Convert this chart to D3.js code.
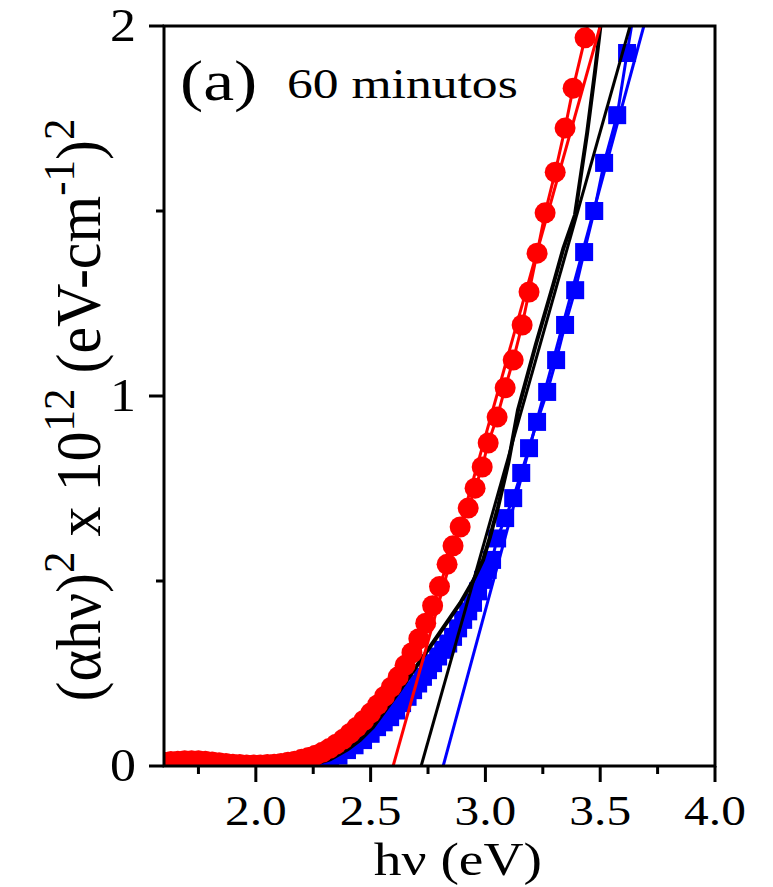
<!DOCTYPE html>
<html>
<head>
<meta charset="utf-8">
<script src="https://cdn.jsdelivr.net/npm/d3@7"></script>
<style>
  body { margin: 0; background: #fff; }
  svg text { font-family: "Liberation Serif", Tinos, "Times New Roman", Times, serif; fill: #000; }
</style>
</head>
<body>
<svg id="chart" width="773" height="887"></svg>
<script>
// data: [hv (eV), (ahv)^2 x 10^12]
const redData = [
  [1.60, 0.010], [1.63, 0.012], [1.66, 0.013], [1.69, 0.014], [1.72, 0.014], [1.75, 0.014],
  [1.78, 0.013], [1.81, 0.011], [1.84, 0.009], [1.87, 0.007], [1.90, 0.005], [1.93, 0.004],
  [1.96, 0.003], [1.99, 0.003], [2.02, 0.003], [2.05, 0.004], [2.08, 0.005], [2.11, 0.007],
  [2.14, 0.010], [2.17, 0.013], [2.20, 0.018], [2.23, 0.023], [2.26, 0.029], [2.29, 0.037],
  [2.32, 0.047], [2.35, 0.059], [2.38, 0.072], [2.41, 0.088], [2.44, 0.105], [2.47, 0.123],
  [2.50, 0.143], [2.53, 0.165], [2.56, 0.188], [2.59, 0.213], [2.62, 0.241], [2.65, 0.272],
  [2.68, 0.306], [2.71, 0.344], [2.74, 0.386], [2.77, 0.433], [2.80, 0.485], [2.833, 0.545],
  [2.859, 0.595], [2.89, 0.646], [2.925, 0.697], [2.955, 0.751], [2.986, 0.808], [3.012, 0.873],
  [3.051, 0.943], [3.086, 1.022], [3.121, 1.097], [3.16, 1.192], [3.19, 1.281], [3.225, 1.386],
  [3.26, 1.495], [3.304, 1.605], [3.347, 1.724], [3.382, 1.832], [3.434, 1.968], [3.47, 2.08]
];

const blueData = [
  [1.60, 0.003], [1.70, 0.004], [1.80, 0.003], [1.90, 0.001], [2.00, 0.000], [2.10, 0.000],
  [2.20, 0.000], [2.249, 0.002], [2.29, 0.008], [2.323, 0.016], [2.36, 0.028], [2.397, 0.043],
  [2.43, 0.056], [2.467, 0.070], [2.50, 0.087], [2.528, 0.105], [2.557, 0.118], [2.585, 0.132],
  [2.611, 0.150], [2.637, 0.170], [2.661, 0.187], [2.685, 0.205], [2.707, 0.223], [2.728, 0.241],
  [2.750, 0.259], [2.772, 0.278], [2.794, 0.296], [2.816, 0.314], [2.838, 0.331], [2.859, 0.349],
  [2.881, 0.372], [2.903, 0.395], [2.925, 0.418], [2.946, 0.441], [2.968, 0.472], [2.99, 0.503],
  [3.01, 0.530], [3.029, 0.557], [3.051, 0.615], [3.086, 0.670], [3.121, 0.724], [3.156, 0.792],
  [3.19, 0.859], [3.225, 0.930], [3.269, 1.011], [3.308, 1.097], [3.347, 1.192], [3.391, 1.286],
  [3.43, 1.389], [3.474, 1.500], [3.517, 1.630], [3.574, 1.759], [3.617, 1.927], [3.65, 2.05]
];

const blackData = [
  [2.25, 0.004], [2.323, 0.018], [2.40, 0.045], [2.454, 0.070], [2.51, 0.105], [2.563, 0.150],
  [2.628, 0.205], [2.70, 0.270], [2.79, 0.350], [2.89, 0.440], [2.946, 0.500],
  [2.99, 0.557], [3.02, 0.619], [3.055, 0.700], [3.10, 0.820], [3.142, 0.962], [3.22, 1.140],
  [3.295, 1.300], [3.34, 1.400], [3.39, 1.489], [3.443, 1.711], [3.478, 1.880], [3.50, 1.995],
  [3.51, 2.05]
];

// linear fits (two end points each)
const redFit = [[2.598, 0], [3.50, 2.0]];
const blackFit = [[2.72, 0], [3.63, 2.0]];
const blueFit = [[2.816, 0], [3.69, 2.0]];

const xMajor = [2.0, 2.5, 3.0, 3.5, 4.0];
const xMinor = [1.75, 2.25, 2.75, 3.25, 3.75];
const yMajor = [0, 1, 2];
const yMinor = [0.5, 1.5];

const RED = "#ff0000", BLUE = "#0000ff", BLACK = "#000000";

const svg = d3.select("#chart");
const margin = {top: 26, right: 58, bottom: 121, left: 164};
const width = 773, height = 887;
const plotW = width - margin.left - margin.right;
const plotH = height - margin.top - margin.bottom;

const x = d3.scaleLinear().domain([1.6, 4.0]).range([0, plotW]);
const y = d3.scaleLinear().domain([0, 2]).range([plotH, 0]);

const g = svg.append("g").attr("transform", `translate(${margin.left},${margin.top})`);

g.append("clipPath").attr("id", "clip")
  .append("rect").attr("width", plotW).attr("height", plotH);

const plot = g.append("g").attr("clip-path", "url(#clip)");

const line = d3.line().x(d => x(d[0])).y(d => y(d[1]));

// blue squares
plot.append("path").datum(blueData)
  .attr("d", line).attr("fill", "none").attr("stroke", BLUE).attr("stroke-width", 3);
plot.selectAll("rect.blue").data(blueData).enter().append("rect")
  .attr("class", "blue")
  .attr("x", d => x(d[0]) - 9).attr("y", d => y(d[1]) - 9)
  .attr("width", 18).attr("height", 18)
  .attr("fill", BLUE);

// black curve
plot.append("path").datum(blackData)
  .attr("d", line).attr("fill", "none")
  .attr("stroke", BLACK).attr("stroke-width", 4);

// red circles
plot.append("path").datum(redData)
  .attr("d", line).attr("fill", "none").attr("stroke", RED).attr("stroke-width", 3);
plot.selectAll("circle.red").data(redData).enter().append("circle")
  .attr("class", "red")
  .attr("cx", d => x(d[0])).attr("cy", d => y(d[1]))
  .attr("r", 10.5)
  .attr("fill", RED);

// fit lines
[[redFit, RED], [blackFit, BLACK], [blueFit, BLUE]].forEach(([f, c]) => {
  plot.append("path").datum(f)
    .attr("d", line).attr("fill", "none").attr("stroke", c).attr("stroke-width", 3);
});

// frame
g.append("rect").attr("width", plotW).attr("height", plotH)
  .attr("fill", "none").attr("stroke", "#000").attr("stroke-width", 3);

// x ticks
const xAxis = g.append("g").attr("transform", `translate(0,${plotH})`);
xAxis.selectAll("line.maj").data(xMajor).enter().append("line")
  .attr("x1", d => x(d)).attr("x2", d => x(d)).attr("y1", 0).attr("y2", 16)
  .attr("stroke", "#000").attr("stroke-width", 3);
xAxis.selectAll("line.min").data(xMinor).enter().append("line")
  .attr("x1", d => x(d)).attr("x2", d => x(d)).attr("y1", 0).attr("y2", 8)
  .attr("stroke", "#000").attr("stroke-width", 3);
xAxis.selectAll("text").data(xMajor).enter().append("text")
  .attr("transform", d => `translate(${x(d)},59) scale(1.15,1)`)
  .attr("text-anchor", "middle")
  .attr("font-size", 43)
  .text(d => d.toFixed(1));

// y ticks
const yAxis = g.append("g");
yAxis.selectAll("line.maj").data(yMajor).enter().append("line")
  .attr("x1", -15).attr("x2", 0).attr("y1", d => y(d)).attr("y2", d => y(d))
  .attr("stroke", "#000").attr("stroke-width", 3);
yAxis.selectAll("line.min").data(yMinor).enter().append("line")
  .attr("x1", -8).attr("x2", 0).attr("y1", d => y(d)).attr("y2", d => y(d))
  .attr("stroke", "#000").attr("stroke-width", 3);
yAxis.selectAll("text").data(yMajor).enter().append("text")
  .attr("transform", d => `translate(-28,${y(d) + 15}) scale(1.13,1)`)
  .attr("text-anchor", "end")
  .attr("font-size", 46)
  .text(d => d);

// axis titles
svg.append("text")
  .attr("transform", `translate(${margin.left + x(2.88)},875) scale(1.18,1)`)
  .attr("text-anchor", "middle")
  .attr("font-size", 47)
  .text("hν (eV)");

const yTitle = svg.append("text")
  .attr("transform", "translate(100,410) rotate(-90) scale(1,1.05)")
  .attr("text-anchor", "middle")
  .attr("font-size", 60);
yTitle.append("tspan").text("(αhν)");
yTitle.append("tspan").attr("dy", -25).attr("font-size", 43).text("2");
yTitle.append("tspan").attr("dy", 25).text(" x 10");
yTitle.append("tspan").attr("dy", -25).attr("font-size", 43).text("12");
yTitle.append("tspan").attr("dy", 25).text(" (eV-cm");
yTitle.append("tspan").attr("dy", -25).attr("font-size", 43).text("-1");
yTitle.append("tspan").attr("dy", 25).text(")");
yTitle.append("tspan").attr("dy", -25).attr("font-size", 43).text("2");

// panel label
svg.append("text")
  .attr("transform", "translate(180,100) scale(1.2,1)")
  .attr("font-size", 58)
  .text("(a)");
svg.append("text")
  .attr("transform", "translate(287,98) scale(1.2,1)")
  .attr("font-size", 43)
  .text("60 minutos");
</script>
</body>
</html>
